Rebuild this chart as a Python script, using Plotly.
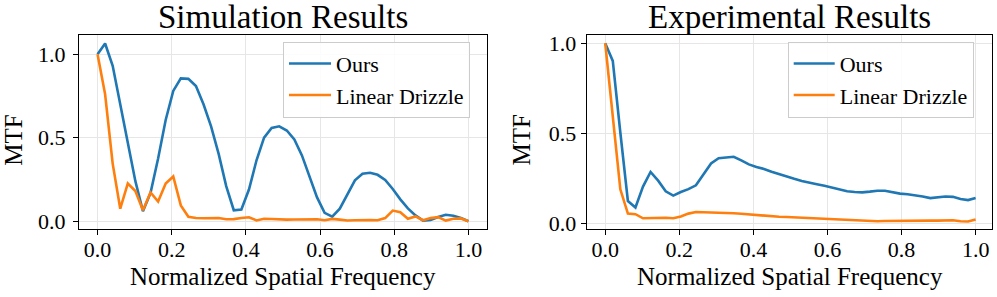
import plotly.graph_objects as go

# ---------------- data ----------------
freq = [0.0, 0.0204, 0.0408, 0.0612, 0.0816, 0.1020, 0.1224, 0.1429, 0.1633, 0.1837,
        0.2041, 0.2245, 0.2449, 0.2653, 0.2857, 0.3061, 0.3265, 0.3469, 0.3673, 0.3878,
        0.4082, 0.4286, 0.4490, 0.4694, 0.4898, 0.5102, 0.5306, 0.5510, 0.5714, 0.5918,
        0.6122, 0.6327, 0.6531, 0.6735, 0.6939, 0.7143, 0.7347, 0.7551, 0.7755, 0.7959,
        0.8163, 0.8367, 0.8571, 0.8776, 0.8980, 0.9184, 0.9388, 0.9592, 0.9796, 1.0]

sim_ours = [1.0, 1.064, 0.93, 0.71, 0.47, 0.24, 0.06, 0.17, 0.375, 0.606,
            0.78, 0.855, 0.852, 0.809, 0.70, 0.568, 0.403, 0.21, 0.066, 0.07,
            0.19, 0.365, 0.50, 0.558, 0.568, 0.543, 0.49, 0.394, 0.268, 0.143,
            0.05, 0.027, 0.075, 0.162, 0.245, 0.284, 0.29, 0.278, 0.247, 0.193,
            0.131, 0.077, 0.035, 0.004, 0.008, 0.025, 0.039, 0.033, 0.019, 0.0]

sim_drizzle = [1.0, 0.76, 0.345, 0.075, 0.226, 0.181, 0.066, 0.172, 0.118, 0.226,
               0.268, 0.095, 0.027, 0.02, 0.018, 0.017, 0.019, 0.012, 0.013, 0.02,
               0.024, 0.005, 0.015, 0.014, 0.01, 0.01, 0.011, 0.01, 0.012, 0.012,
               0.006, 0.014, 0.01, 0.005, 0.006, 0.008, 0.007, 0.006, 0.019, 0.064,
               0.054, 0.015, 0.029, 0.006, 0.019, 0.025, 0.004, 0.015, 0.017, 0.0]

exp_ours = [1.0, 0.902, 0.505, 0.125, 0.089, 0.205, 0.286, 0.238, 0.179, 0.155,
            0.175, 0.191, 0.212, 0.272, 0.333, 0.3625, 0.368, 0.37, 0.35, 0.328,
            0.314, 0.303, 0.2875, 0.273, 0.261, 0.248, 0.236, 0.225, 0.218, 0.209,
            0.198, 0.189, 0.179, 0.175, 0.173, 0.177, 0.182, 0.182, 0.173, 0.166,
            0.1625, 0.157, 0.15, 0.141, 0.145, 0.15, 0.148, 0.136, 0.13, 0.141]

exp_drizzle = [1.0, 0.6, 0.19, 0.055, 0.052, 0.029, 0.03, 0.032, 0.032, 0.029,
               0.039, 0.055, 0.064, 0.0625, 0.062, 0.061, 0.059, 0.057, 0.054, 0.05,
               0.048, 0.045, 0.041, 0.0375, 0.036, 0.034, 0.031, 0.0285, 0.027, 0.027,
               0.025, 0.023, 0.021, 0.019, 0.016, 0.014, 0.0125, 0.014, 0.015, 0.016,
               0.016, 0.016, 0.016, 0.016, 0.016, 0.018, 0.018, 0.0125, 0.011, 0.023]

titles = ["Simulation Results", "Experimental Results"]
series_names = ["Ours", "Linear Drizzle"]
x_ticks = [0.0, 0.2, 0.4, 0.6, 0.8, 1.0]
y_ticks = [0.0, 0.5, 1.0]
x_label = "Normalized Spatial Frequency"
y_label = "MTF"

# ---------------- figure ----------------
W, H = 997, 297
FONT = "Liberation Serif"
BLUE, ORANGE = "#1f77b4", "#ff7f0e"

fig = go.Figure()

fig.add_trace(go.Scatter(x=freq, y=sim_ours, mode="lines", name=series_names[0],
                         line=dict(color=BLUE, width=2.6), xaxis="x", yaxis="y",
                         legend="legend"))
fig.add_trace(go.Scatter(x=freq, y=sim_drizzle, mode="lines", name=series_names[1],
                         line=dict(color=ORANGE, width=2.6), xaxis="x", yaxis="y",
                         legend="legend"))
fig.add_trace(go.Scatter(x=freq, y=exp_ours, mode="lines", name=series_names[0],
                         line=dict(color=BLUE, width=2.6), xaxis="x2", yaxis="y2",
                         legend="legend2"))
fig.add_trace(go.Scatter(x=freq, y=exp_drizzle, mode="lines", name=series_names[1],
                         line=dict(color=ORANGE, width=2.6), xaxis="x2", yaxis="y2",
                         legend="legend2"))

def px_x(p):
    return p / W

def px_y(p):
    return 1 - p / H

axis_common = dict(
    showline=True, linecolor="black", linewidth=1.2, mirror=True,
    ticks="outside", ticklen=5, tickwidth=1.1, tickcolor="black",
    showgrid=True, gridcolor="#e6e6e6", gridwidth=1, zeroline=False,
    tickfont=dict(family=FONT, size=22, color="black"),
)

left_dom = [px_x(79), px_x(487)]
right_dom = [px_x(586.7), px_x(992.3)]
y_dom = [px_y(234), px_y(32.7)]

legend_common = dict(xanchor="left", yanchor="top",
                     bgcolor="rgba(255,255,255,0.85)", bordercolor="#cccccc",
                     borderwidth=1, font=dict(family=FONT, size=22, color="black"))

fig.update_layout(
    width=W, height=H,
    margin=dict(l=0, r=0, t=0, b=0),
    paper_bgcolor="white", plot_bgcolor="white",
    font=dict(family=FONT, color="black"),
    xaxis=dict(domain=left_dom, range=[-0.05, 1.05], tickvals=x_ticks,
               ticktext=[f"{v:.1f}" for v in x_ticks], anchor="y",
               ticklabelstandoff=-5, **axis_common),
    yaxis=dict(domain=y_dom, range=[-0.047, 1.117], tickvals=y_ticks,
               ticktext=[f"{v:.1f}" for v in y_ticks], anchor="x",
               ticklabelstandoff=3, **axis_common),
    xaxis2=dict(domain=right_dom, range=[-0.05, 1.045], tickvals=x_ticks,
                ticktext=[f"{v:.1f}" for v in x_ticks], anchor="y2",
                ticklabelstandoff=-5, **axis_common),
    yaxis2=dict(domain=y_dom, range=[-0.031, 1.048], tickvals=y_ticks,
                ticktext=[f"{v:.1f}" for v in y_ticks], anchor="x2", **axis_common),
    legend=dict(x=px_x(283), y=px_y(40), itemwidth=42, **legend_common),
    legend2=dict(x=px_x(787.7), y=px_y(40), itemwidth=41, **legend_common),
    showlegend=True,
)

annos = []
centers = [(79 + 487) / 2, (586.7 + 992.3) / 2]
lefts = [79, 586.7]
for cx, lx, t in zip(centers, lefts, titles):
    annos.append(dict(text=t, x=px_x(cx), y=px_y(15), xref="paper", yref="paper",
                      xanchor="center", yanchor="middle", showarrow=False,
                      font=dict(family=FONT, size=33, color="black")))
    annos.append(dict(text=x_label, x=px_x(cx), y=px_y(283), xref="paper", yref="paper",
                      xanchor="center", yanchor="middle", showarrow=False,
                      font=dict(family=FONT, size=25, color="black")))
    annos.append(dict(text=y_label, x=px_x(lx - 65.5), y=px_y(142), xref="paper",
                      yref="paper", xanchor="center", yanchor="middle", textangle=-90,
                      showarrow=False, font=dict(family=FONT, size=25, color="black")))
fig.update_layout(annotations=annos)

fig.write_html("out.html",
               config={"displayModeBar": False},
               post_script="document.body.style.margin='0px';"
                           "document.body.style.overflow='hidden';")
